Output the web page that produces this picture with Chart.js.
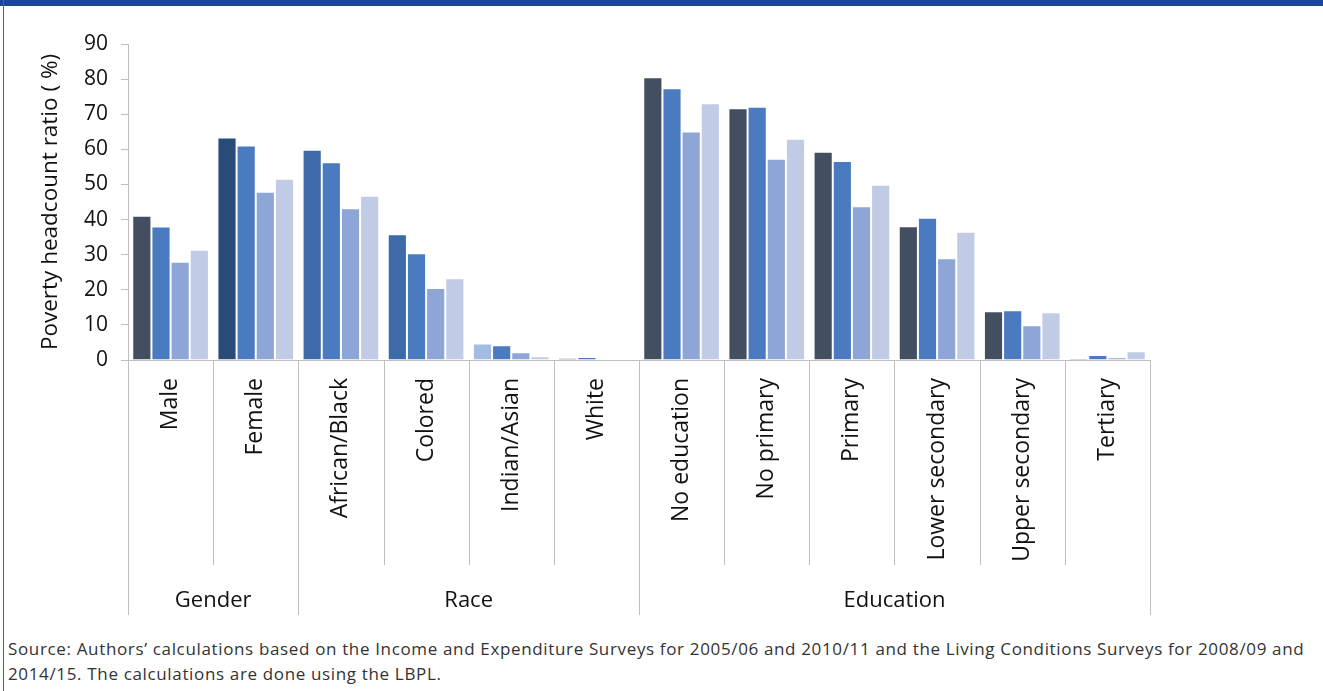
<!DOCTYPE html>
<html>
<head>
<meta charset="utf-8">
<script src="https://cdn.jsdelivr.net/npm/chart.js@4/dist/chart.umd.min.js"></script>
<style>
  html, body { margin: 0; padding: 0; background: #fff; }
  body { width: 1323px; height: 691px; position: relative; overflow: hidden; font-family: "Open Sans", sans-serif; }
  #topbar { position: absolute; left: 0; top: 0; width: 1323px; height: 6px; background: #1c4794; }
  #leftline { position: absolute; left: 3px; top: 0; width: 1px; height: 691px; background: #3a64b0; }
  #wrap { position: absolute; left: 0; top: 0; width: 1323px; height: 625px; }
  #source { position: absolute; left: 8px; top: 636px; width: 1315px; font-size: 17px; letter-spacing: 0.65px; line-height: 25px; color: #333; white-space: nowrap; }
</style>
</head>
<body>
<div id="wrap"><canvas id="c"></canvas></div>
<div id="topbar"></div>
<div id="leftline"></div>
<div id="source">Source: Authors’ calculations based on the Income and Expenditure Surveys for 2005/06 and 2010/11 and the Living Conditions Surveys for 2008/09 and<br>2014/15. The calculations are done using the LBPL.</div>
<script>
const categories = ['Male', 'Female', 'African/Black', 'Colored', 'Indian/Asian', 'White',
  'No education', 'No primary', 'Primary', 'Lower secondary', 'Upper secondary', 'Tertiary'];
const groupNames = ['Gender', 'Race', 'Education'];
const groupSizes = [2, 4, 6];
const seriesNames = ['2005/06', '2008/09', '2010/11', '2014/15'];
const series1 = [41.1, 63.4, 59.9, 35.8, 4.7, 0.5, 80.5, 71.7, 59.3, 38.1, 13.9, 0.4];
const series2 = [38.0, 61.1, 56.3, 30.4, 4.2, 0.85, 77.4, 72.1, 56.7, 40.5, 14.2, 1.4];
const series3 = [28.0, 47.9, 43.2, 20.5, 2.2, 0, 65.1, 57.3, 43.8, 29.0, 9.9, 0.8];
const series4 = [31.4, 51.6, 46.8, 23.3, 1.1, 0, 73.1, 63.0, 49.9, 36.5, 13.6, 2.5];
const yTicks = [0, 10, 20, 30, 40, 50, 60, 70, 80, 90];

const colors1 = ['#434f60', '#2a4a78', '#3d6aa8', '#3d6aa8', '#a4bce4', '#5d6575',
  '#434f60', '#434f60', '#434f60', '#434f60', '#434f60', '#555f6f'];
const color2 = '#4a7bc0', color3 = '#8ea5d7', color4 = '#c2cbe6';

const FONT = '"Open Sans", sans-serif';

const groupPlugin = {
  id: 'groups',
  afterDraw(chart) {
    const xs = chart.scales.x, ctx = chart.ctx;
    const n = categories.length;
    const half = (xs.getPixelForValue(1) - xs.getPixelForValue(0)) / 2;
    const axisY = chart.chartArea.bottom;
    const groupIdx = [0];
    groupSizes.forEach(s => groupIdx.push(groupIdx[groupIdx.length - 1] + s));
    ctx.save();
    ctx.strokeStyle = '#bfbfbf';
    ctx.lineWidth = 1;
    for (let i = 0; i <= n; i++) {
      const bx = i < n ? xs.getPixelForValue(i) - half : xs.getPixelForValue(n - 1) + half;
      const isGroup = groupIdx.includes(i);
      const px = Math.round(bx) + 0.5;
      ctx.beginPath();
      ctx.moveTo(px, axisY);
      ctx.lineTo(px, axisY + (isGroup ? 255 : 205));
      ctx.stroke();
    }
    ctx.fillStyle = '#111';
    ctx.font = '22px ' + FONT;
    ctx.textAlign = 'center';
    ctx.textBaseline = 'middle';
    for (let g = 0; g < groupNames.length; g++) {
      const a = xs.getPixelForValue(groupIdx[g]) - half;
      const b = xs.getPixelForValue(groupIdx[g + 1] - 1) + half;
      ctx.fillText(groupNames[g], (a + b) / 2, axisY + 241);
    }
    ctx.restore();
  }
};

const border = 'rgba(255,255,255,0.55)';
new Chart(document.getElementById('c'), {
  type: 'bar',
  data: {
    labels: categories,
    datasets: [
      { label: seriesNames[0], data: series1, backgroundColor: colors1, borderColor: border, borderWidth: 1 },
      { label: seriesNames[1], data: series2, backgroundColor: color2, borderColor: border, borderWidth: 1 },
      { label: seriesNames[2], data: series3, backgroundColor: color3, borderColor: border, borderWidth: 1 },
      { label: seriesNames[3], data: series4, backgroundColor: color4, borderColor: border, borderWidth: 1 }
    ]
  },
  options: {
    responsive: true,
    maintainAspectRatio: false,
    animation: false,
    events: [],
    layout: { padding: { top: 44, right: 173, bottom: 0, left: 0 } },
    datasets: { bar: { barPercentage: 1.0, categoryPercentage: 0.9 } },
    plugins: { legend: { display: false }, tooltip: { enabled: false } },
    scales: {
      x: {
        grid: { display: false, drawTicks: false },
        border: { display: true, color: '#bfbfbf', width: 1 },
        ticks: {
          autoSkip: false, minRotation: 90, maxRotation: 90, padding: 18,
          color: '#111', font: { family: FONT, size: 23 }
        },
        afterFit: s => { s.height = 265; }
      },
      y: {
        min: 0, max: 90,
        afterBuildTicks: s => { s.ticks = yTicks.map(v => ({ value: v })); },
        grid: { drawOnChartArea: false, drawTicks: true, tickLength: 7, color: '#bfbfbf' },
        border: { display: true, color: '#bfbfbf', width: 1 },
        ticks: { padding: 13, color: '#111', font: { family: FONT, size: 21 } },
        title: {
          display: true, text: 'Poverty headcount ratio ( %)', color: '#111',
          font: { family: FONT, size: 22.5 }, padding: { top: 37, bottom: 0 }
        },
        afterFit: s => { s.width = 128; }
      }
    }
  },
  plugins: [groupPlugin]
});
</script>
</body>
</html>
